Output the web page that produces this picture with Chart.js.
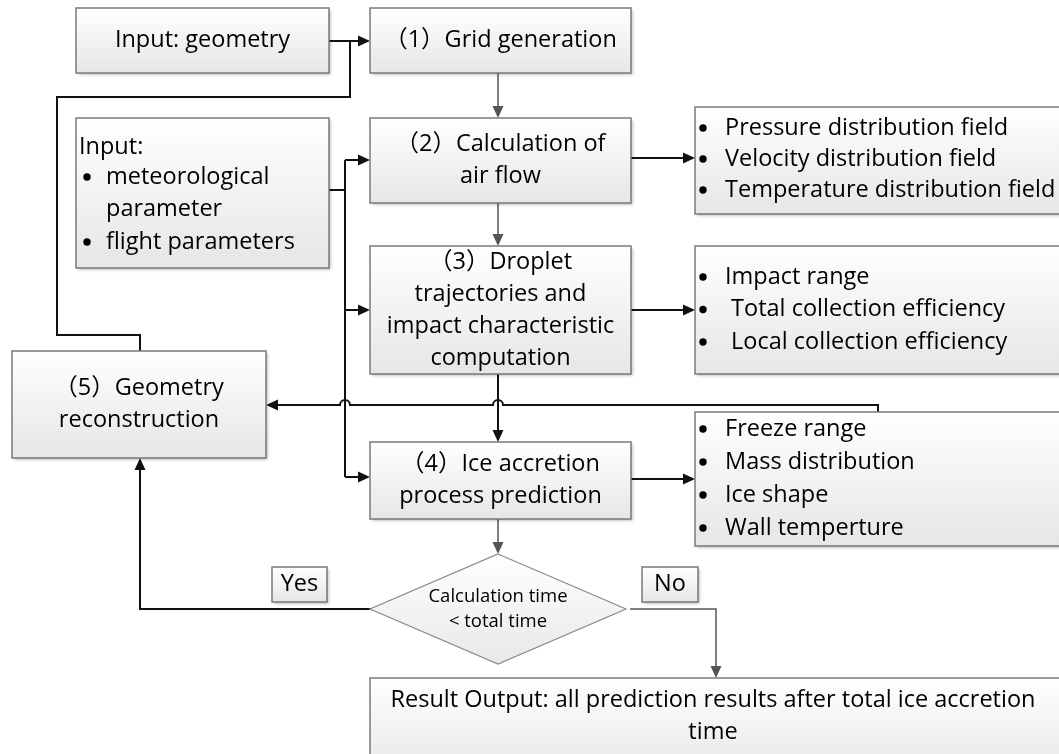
<!DOCTYPE html>
<html>
<head>
<meta charset="utf-8">
<script src="https://cdn.jsdelivr.net/npm/chart.js@4.4.0/dist/chart.umd.min.js"></script>
<style>
  html, body { margin: 0; padding: 0; background: #fff; }
  canvas { display: block; }
</style>
</head>
<body>
<canvas id="flow" width="1059" height="754"></canvas>
<script>
// step texts
const geometryInput = ['Input: geometry'];
const gridStep = ['（1）Grid generation'];
const airStep = ['（2）Calculation of', 'air flow'];
const dropletStep = ['（3）Droplet', 'trajectories and', 'impact characteristic', 'computation'];
const iceStep = ['（4）Ice accretion', 'process prediction'];
const reconStep = ['（5）Geometry', 'reconstruction'];
const paramTitle = 'Input:';
const paramItems = [['meteorological', 'parameter'], ['flight parameters']];
const airOutputs = ['Pressure distribution field', 'Velocity distribution field', 'Temperature distribution field'];
const impactOutputs = ['Impact range', ' Total collection efficiency', ' Local collection efficiency'];
const iceOutputs = ['Freeze range', 'Mass distribution', 'Ice shape', 'Wall temperture'];
const decisionText = ['Calculation time', '< total time'];
const branchLabels = ['Yes', 'No'];
const resultText = ['Result Output: all prediction results after total ice accretion', 'time'];

// layout in axis units (x 0..1059, y 0..754 top-down)
const boxes = [
  { r: [76, 8, 329, 73], text: geometryInput },
  { r: [370, 8, 631, 73], text: gridStep },
  { r: [76, 118, 329, 268] },
  { r: [370, 118, 631, 203], text: airStep },
  { r: [695, 107, 1075, 214] },
  { r: [370, 246, 631, 374], text: dropletStep },
  { r: [695, 246, 1075, 374] },
  { r: [12, 351, 266, 458], text: reconStep },
  { r: [370, 442, 631, 519], text: iceStep },
  { r: [695, 412, 1075, 546] },
  { r: [370, 678, 1075, 780] },
  { r: [272, 567, 327, 602], text: [branchLabels[0]] },
  { r: [642, 567, 698, 602], text: [branchLabels[1]] }
];
const bulletLists = [
  { items: airOutputs, x: 703, tx: 725, y: 128, step: 31 },
  { items: impactOutputs, x: 703, tx: 725, y: 277, step: 32.5 },
  { items: iceOutputs, x: 703, tx: 725, y: 429, step: 33 }
];
const thick = [
  { p: [[329, 41], [370, 41]], arrow: true },
  { p: [[140, 351], [140, 335], [57, 335], [57, 97], [350, 97], [350, 41]] },
  { p: [[329, 190], [345, 190]] },
  { p: [[345, 160], [345, 477]] },
  { p: [[345, 160], [370, 160]], arrow: true },
  { p: [[345, 310], [370, 310]], arrow: true },
  { p: [[345, 477], [370, 477]], arrow: true },
  { p: [[631, 158], [695, 158]], arrow: true },
  { p: [[631, 310], [695, 310]], arrow: true },
  { p: [[631, 479], [695, 479]], arrow: true },
  { p: [[498, 374], [498, 442]], arrow: true },
  { p: [[878, 412], [878, 405], [266, 405]], arrow: true, hops: [498, 345] },
  { p: [[371, 609], [140, 609], [140, 458]], arrow: true }
];
const thin = [
  { p: [[498, 73], [498, 118]], arrow: true },
  { p: [[498, 203], [498, 246]], arrow: true },
  { p: [[498, 519], [498, 554]], arrow: true },
  { p: [[630, 609], [716, 609], [716, 678]], arrow: true }
];
const diamond = { cx: 498, cy: 609, hw: 128, hh: 55 };

const FONT = '"Open Sans", "Noto Sans CJK SC", sans-serif';
const SIZE = 23.5;

const flowPlugin = {
  id: 'flow',
  afterDatasetsDraw(chart) {
    const ctx = chart.ctx;
    const xs = chart.scales.x, ys = chart.scales.y;
    const X = v => xs.getPixelForValue(v);
    const Y = v => ys.getPixelForValue(v);

    function box(r) {
      const x0 = X(r[0]), y0 = Y(r[1]), x1 = X(r[2]), y1 = Y(r[3]);
      ctx.save();
      const g = ctx.createLinearGradient(0, y0, 0, y1);
      g.addColorStop(0, '#ffffff');
      g.addColorStop(1, '#e6e6e6');
      ctx.shadowColor = 'rgba(0,0,0,0.3)';
      ctx.shadowBlur = 3;
      ctx.shadowOffsetX = 1.5;
      ctx.shadowOffsetY = 1.5;
      ctx.fillStyle = g;
      ctx.fillRect(x0, y0, x1 - x0, y1 - y0);
      ctx.restore();
      ctx.strokeStyle = '#7a7a7a';
      ctx.lineWidth = 1.5;
      ctx.strokeRect(x0, y0, x1 - x0, y1 - y0);
    }

    function arrowHead(a, b, color, len, wid) {
      const ang = Math.atan2(Y(b[1]) - Y(a[1]), X(b[0]) - X(a[0]));
      const tx = X(b[0]), ty = Y(b[1]);
      ctx.fillStyle = color;
      ctx.beginPath();
      ctx.moveTo(tx, ty);
      ctx.lineTo(tx - len * Math.cos(ang) + wid * Math.sin(ang), ty - len * Math.sin(ang) - wid * Math.cos(ang));
      ctx.lineTo(tx - len * Math.cos(ang) - wid * Math.sin(ang), ty - len * Math.sin(ang) + wid * Math.cos(ang));
      ctx.closePath();
      ctx.fill();
    }

    function connector(c, color, width) {
      const p = c.p;
      const n = p.length;
      ctx.strokeStyle = color;
      ctx.lineWidth = width;
      ctx.beginPath();
      ctx.moveTo(X(p[0][0]), Y(p[0][1]));
      for (let i = 1; i < n; i++) {
        let end = p[i];
        if (i === n - 1 && c.arrow) {
          const dx = Math.sign(p[i][0] - p[i - 1][0]), dy = Math.sign(p[i][1] - p[i - 1][1]);
          end = [p[i][0] - dx * 8, p[i][1] - dy * 8];
        }
        if (c.hops && p[i - 1][1] === p[i][1]) {
          c.hops.forEach(h => {
            ctx.lineTo(X(h + 5), Y(p[i][1]));
            ctx.arc(X(h), Y(p[i][1]), 5, 0, Math.PI, true);
          });
        }
        ctx.lineTo(X(end[0]), Y(end[1]));
      }
      ctx.stroke();
      if (c.arrow) arrowHead(p[n - 2], p[n - 1], color, 12, 5.5);
    }

    function lines(text, cx, cy, lh, size) {
      ctx.fillStyle = '#000';
      ctx.font = size + 'px ' + FONT;
      ctx.textAlign = 'center';
      ctx.textBaseline = 'middle';
      const top = cy - (text.length - 1) * lh / 2;
      text.forEach((t, i) => ctx.fillText(t, X(cx), Y(top + i * lh)));
    }

    function bullet(x, y) {
      ctx.fillStyle = '#000';
      ctx.beginPath();
      ctx.arc(X(x), Y(y), 3.7, 0, Math.PI * 2);
      ctx.fill();
    }

    // connectors first, boxes on top
    thin.forEach(c => connector(c, '#555', 1.5));
    thick.forEach(c => connector(c, '#111', 2));

    boxes.forEach(b => {
      box(b.r);
      if (b.text) lines(b.text, (b.r[0] + b.r[2]) / 2, (b.r[1] + b.r[3]) / 2, 32, SIZE);
    });

    // decision diamond
    ctx.save();
    const g = ctx.createLinearGradient(0, Y(diamond.cy - diamond.hh), 0, Y(diamond.cy + diamond.hh));
    g.addColorStop(0, '#ffffff');
    g.addColorStop(1, '#e8e8e8');
    ctx.fillStyle = g;
    ctx.beginPath();
    ctx.moveTo(X(diamond.cx), Y(diamond.cy - diamond.hh));
    ctx.lineTo(X(diamond.cx + diamond.hw), Y(diamond.cy));
    ctx.lineTo(X(diamond.cx), Y(diamond.cy + diamond.hh));
    ctx.lineTo(X(diamond.cx - diamond.hw), Y(diamond.cy));
    ctx.closePath();
    ctx.fill();
    ctx.strokeStyle = '#8a8a8a';
    ctx.lineWidth = 1.2;
    ctx.stroke();
    ctx.restore();
    lines(decisionText, diamond.cx, diamond.cy, 25, 18.5);

    // input parameters box
    ctx.fillStyle = '#000';
    ctx.font = SIZE + 'px ' + FONT;
    ctx.textAlign = 'left';
    ctx.textBaseline = 'middle';
    ctx.fillText(paramTitle, X(79), Y(147));
    let py = 177;
    paramItems.forEach(item => {
      bullet(87, py);
      item.forEach(t => {
        ctx.fillStyle = '#000';
        ctx.fillText(t, X(106), Y(py));
        py += 32.5;
      });
    });

    // output bullet lists
    bulletLists.forEach(l => {
      l.items.forEach((t, i) => {
        const y = l.y + i * l.step;
        bullet(l.x, y);
        ctx.fillStyle = '#000';
        ctx.font = SIZE + 'px ' + FONT;
        ctx.textAlign = 'left';
        ctx.fillText(t, X(l.tx), Y(y));
      });
    });

    // result text
    lines(resultText, 713, 716, 32, SIZE);
  }
};

new Chart(document.getElementById('flow'), {
  type: 'scatter',
  data: {
    datasets: [{
      data: boxes.map(b => ({ x: (b.r[0] + b.r[2]) / 2, y: (b.r[1] + b.r[3]) / 2 })),
      pointRadius: 0
    }]
  },
  options: {
    responsive: false,
    animation: false,
    devicePixelRatio: 1,
    events: [],
    layout: { padding: 0 },
    plugins: { legend: { display: false }, tooltip: { enabled: false } },
    scales: {
      x: { type: 'linear', min: 0, max: 1059, display: false },
      y: { type: 'linear', min: 0, max: 754, reverse: true, display: false }
    }
  },
  plugins: [flowPlugin]
});
</script>
</body>
</html>
